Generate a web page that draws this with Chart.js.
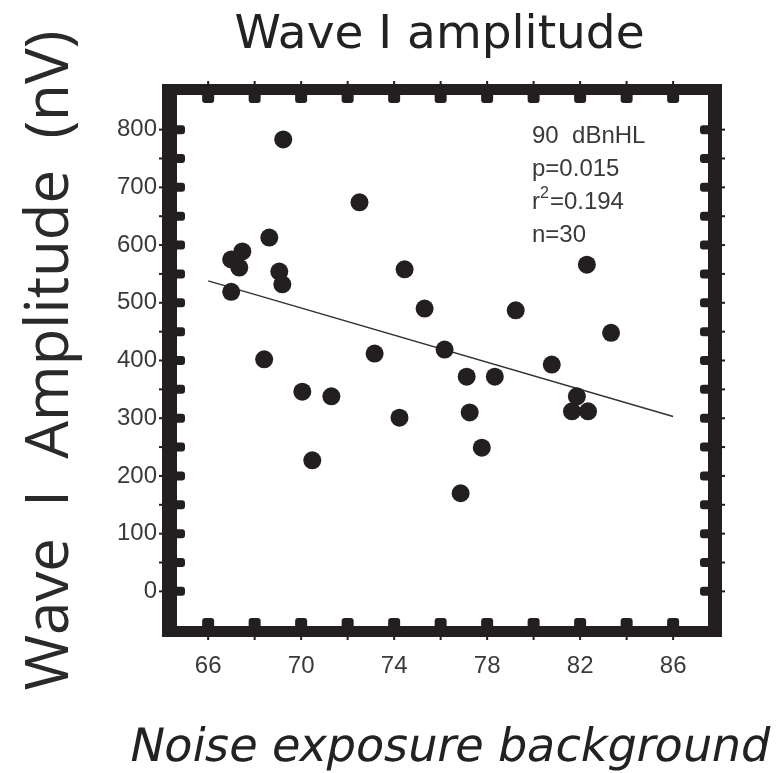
<!DOCTYPE html>
<html>
<head>
<meta charset="utf-8">
<script src="https://cdn.jsdelivr.net/npm/chart.js@4.4.1/dist/chart.umd.min.js"></script>
<style>
  body { margin: 0; background: #fff; }
</style>
</head>
<body>
<canvas id="c" width="777" height="773"></canvas>
<script>
// noise exposure vs wave I amplitude, 90 dBnHL
const noiseExposure = [69.23, 66.99, 67.47, 67.34, 68.63, 66.99, 69.06, 69.19, 68.41, 70.05,
                       70.48, 71.30, 72.51, 73.16, 74.23, 74.45, 75.31, 76.17, 76.86, 77.12,
                       77.25, 77.77, 78.33, 79.23, 80.78, 81.65, 81.86, 82.34, 82.29, 83.33];
const waveAmp = [783, 575, 589, 561, 613, 519, 554, 532, 402, 346,
                 227, 338, 674, 412, 301, 558, 490, 419, 170, 372,
                 310, 249, 372, 487, 393, 312, 338, 312, 566, 448];
const fitX = [66, 86];
const fitY = [538, 303];
const xTickLabels = [66, 70, 74, 78, 82, 86];
const yTickLabels = [0, 100, 200, 300, 400, 500, 600, 700, 800];
const xFrameTicks = [66, 68, 70, 72, 74, 76, 78, 80, 82, 84, 86];
const yFrameTicks = [0, 50, 100, 150, 200, 250, 300, 350, 400, 450, 500, 550, 600, 650, 700, 750, 800];
const statsLines = ['90  dBnHL', 'p=0.015', 'r|2|=0.194', 'n=30'];
const chartTitle = 'Wave I amplitude';
const xTitle = 'Noise exposure background';

const ink = '#231f20';

const framePlugin = {
  id: 'frame',
  afterDatasetsDraw(chart) {
    const { ctx, chartArea: a, scales: { x, y } } = chart;
    ctx.save();
    ctx.fillStyle = ink;
    const L = 15, T = 11, R = 14, B = 11;
    ctx.fillRect(a.left - L, a.top - T, a.right - a.left + L + R, T);
    ctx.fillRect(a.left - L, a.bottom, a.right - a.left + L + R, B);
    ctx.fillRect(a.left - L, a.top - T, L, a.bottom - a.top + T + B);
    ctx.fillRect(a.right, a.top - T, R, a.bottom - a.top + T + B);

    // inward bumps + tiny outer marks
    const w = 12, d = 8;
    xFrameTicks.forEach(v => {
      const px = x.getPixelForValue(v);
      ctx.beginPath();
      ctx.roundRect(px - w / 2, a.bottom - d, w, d + 2, [3, 3, 0, 0]);
      ctx.roundRect(px - w / 2, a.top - 2, w, d + 2, [0, 0, 3, 3]);
      ctx.fill();
      ctx.fillRect(px - 1, a.bottom + B, 2, 3);
      ctx.fillRect(px - 1, a.top - T - 3, 2, 3);
    });
    yFrameTicks.forEach(v => {
      const py = y.getPixelForValue(v);
      ctx.beginPath();
      ctx.roundRect(a.left - 2, py - w / 2 + 1.5, d + 2, w - 3, [0, 3, 3, 0]);
      ctx.roundRect(a.right - d, py - w / 2 + 1.5, d + 2, w - 3, [3, 0, 0, 3]);
      ctx.fill();
      ctx.fillRect(a.left - L - 3, py - 1, 3, 2);
      ctx.fillRect(a.right + R, py - 1, 3, 2);
    });

    // stats text
    ctx.fillStyle = '#3a3a3a';
    ctx.textBaseline = 'alphabetic';
    const tx = a.left + 355;
    statsLines.forEach((s, i) => {
      const by = a.top + 48 + i * 33;
      const parts = s.split('|');
      let cx = tx;
      parts.forEach((p, k) => {
        const sup = k === 1;
        ctx.font = (sup ? 16 : 24) + 'px "Liberation Sans"';
        ctx.fillText(p, cx, sup ? by - 11 : by);
        cx += ctx.measureText(p).width + (sup ? 1 : 0);
      });
    });

    // title, centred over the plot box
    ctx.fillStyle = '#222';
    ctx.font = '47px "DejaVu Sans"';
    ctx.textAlign = 'center';
    ctx.fillText(chartTitle, (a.left + a.right) / 2 - 3, 48);

    // x axis title, slanted by hand (no oblique face available)
    ctx.font = '46px "DejaVu Sans"';
    ctx.translate((a.left + a.right) / 2 + 5, 761);
    ctx.transform(1, 0, -0.2, 1, 0, 0);
    ctx.fillText(xTitle, 0, 0);
    ctx.restore();
  }
};

new Chart(document.getElementById('c'), {
  data: {
    datasets: [{
      type: 'scatter',
      data: noiseExposure.map((v, i) => ({ x: v, y: waveAmp[i] })),
      backgroundColor: ink,
      borderWidth: 0,
      pointRadius: 9,
      pointHoverRadius: 9
    }, {
      type: 'line',
      data: fitX.map((v, i) => ({ x: v, y: fitY[i] })),
      borderColor: '#333',
      borderWidth: 1.5,
      pointRadius: 0,
      fill: false
    }]
  },
  plugins: [framePlugin],
  options: {
    responsive: false,
    animation: false,
    layout: { padding: { left: 0, right: 69, top: 95, bottom: 0 } },
    plugins: {
      legend: { display: false },
      tooltip: { enabled: false },
      title: { display: false }
    },
    scales: {
      x: {
        type: 'linear',
        min: 64.66,
        max: 87.5,
        afterBuildTicks: s => { s.ticks = xTickLabels.map(v => ({ value: v })); },
        afterFit: s => { s.height = 147; },
        grid: { display: false, drawTicks: false },
        border: { display: false },
        ticks: { color: '#3a3a3a', padding: 26, font: { family: '"Liberation Sans"', size: 24 } },
        title: { display: false }
      },
      y: {
        type: 'linear',
        min: -60,
        max: 860,
        afterBuildTicks: s => { s.ticks = yTickLabels.map(v => ({ value: v })); },
        afterFit: s => { s.width = 177; },
        grid: { display: false, drawTicks: false },
        border: { display: false },
        ticks: { color: '#3a3a3a', padding: 20, font: { family: '"Liberation Sans"', size: 24 } },
        title: {
          display: true,
          text: 'Wave  I  Amplitude  (nV)',
          color: '#2a2a2a',
          font: { family: '"Open Sans"', size: 60 },
          padding: { top: 15, bottom: 0 }
        }
      }
    }
  }
});
</script>
</body>
</html>
